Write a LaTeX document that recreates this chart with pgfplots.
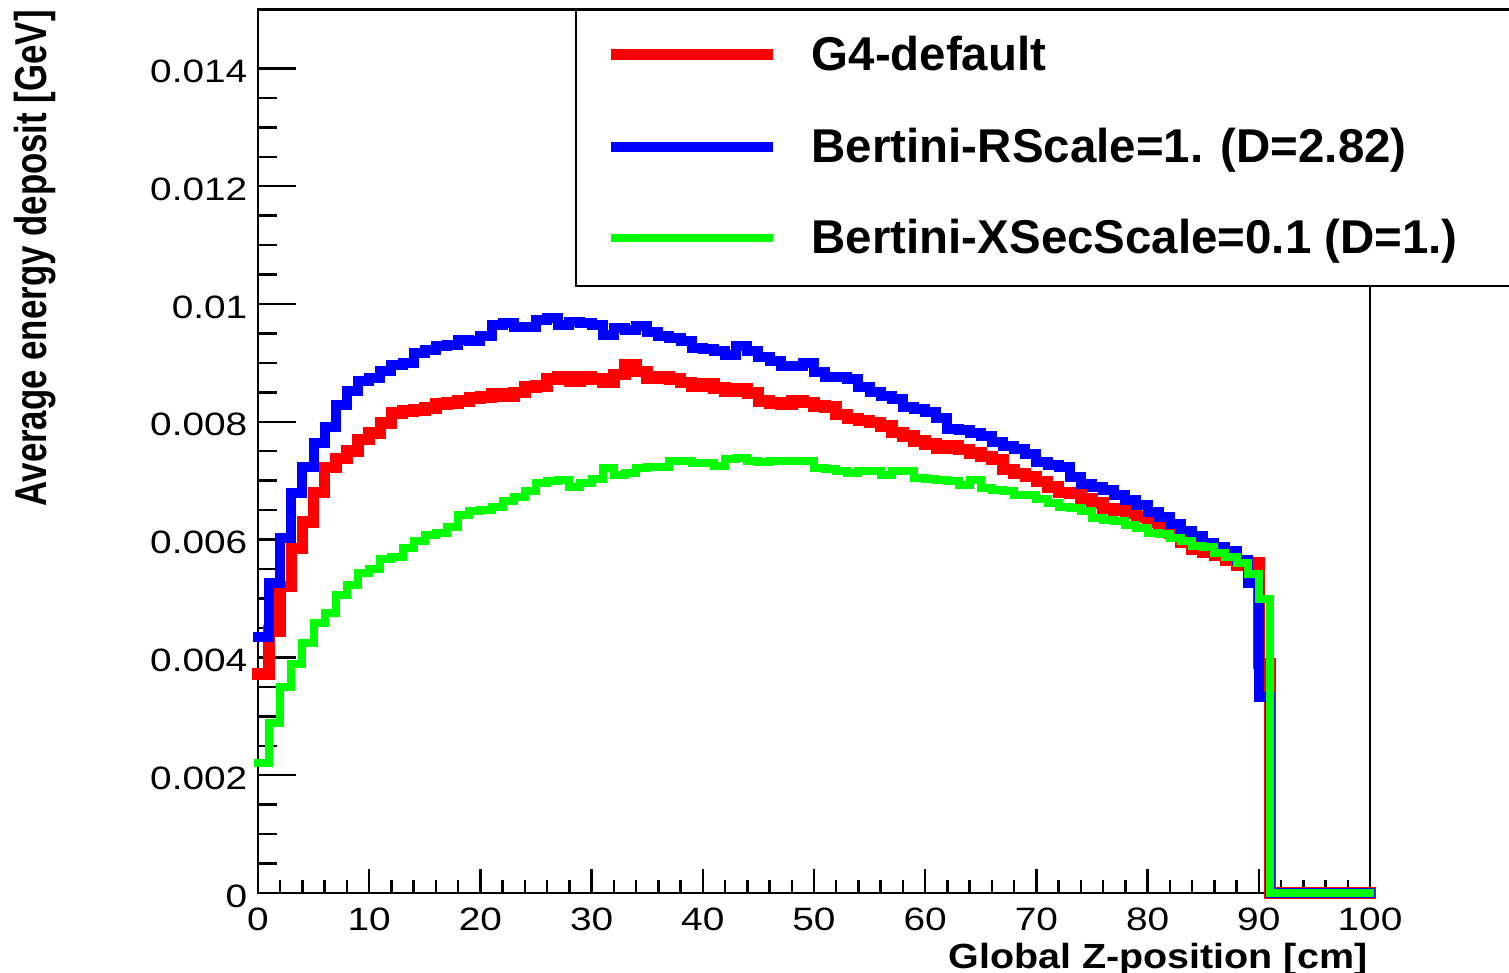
\documentclass[border=0pt]{standalone}
\usepackage{fontspec}
\setmainfont{Liberation Sans}
\newfontfamily\tickfont{Liberation Sans}[FakeStretch=1.2]
\newfontfamily\xlabfont{Liberation Sans}[FakeStretch=1.13]
\newfontfamily\ylabfont{Liberation Sans}[FakeStretch=0.78]
\usepackage{pgfplots}
\pgfplotsset{compat=1.18}
\usepackage{pgfplotstable}

\definecolor{hred}{RGB}{255,0,0}
\definecolor{hblue}{RGB}{0,0,255}
\definecolor{hgreen}{RGB}{0,255,0}

% bin content per 1 cm bin (lower edge), last bin followed by zeros
\pgfplotstableread{
x y
0 0.00372
1 0.00445
2 0.00520
3 0.00585
4 0.00630
5 0.00680
6 0.00722
7 0.00738
8 0.00750
9 0.00770
10 0.00781
11 0.00798
12 0.00815
13 0.00818
14 0.00820
15 0.00823
16 0.00830
17 0.00832
18 0.00835
19 0.00840
20 0.00842
21 0.00847
22 0.00843
23 0.00850
24 0.00859
25 0.00861
26 0.00873
27 0.00876
28 0.00869
29 0.00876
30 0.00873
31 0.00867
32 0.00880
33 0.00897
34 0.00885
35 0.00874
36 0.00877
37 0.00873
38 0.00867
39 0.00860
40 0.00865
41 0.00857
42 0.00852
43 0.00856
44 0.00849
45 0.00835
46 0.00832
47 0.00829
48 0.00835
49 0.00833
50 0.00827
51 0.00825
52 0.00812
53 0.00806
54 0.00802
55 0.00799
56 0.00793
57 0.00782
58 0.00776
59 0.00767
60 0.00762
61 0.00755
62 0.00759
63 0.00753
64 0.00747
65 0.00741
66 0.00736
67 0.00719
68 0.00712
69 0.00707
70 0.00699
71 0.00689
72 0.00680
73 0.00678
74 0.00669
75 0.00662
76 0.00653
77 0.00649
78 0.00644
79 0.00638
80 0.00630
81 0.00622
82 0.00610
83 0.00595
84 0.00583
85 0.00578
86 0.00574
87 0.00565
88 0.00556
89 0.00560
90 0.00390
91 0
100 0
}\gfourdefault

\pgfplotstableread{
x y
0 0.00435
1 0.00526
2 0.00603
3 0.00679
4 0.00723
5 0.00764
6 0.00791
7 0.00829
8 0.00852
9 0.00870
10 0.00874
11 0.00886
12 0.00897
13 0.00900
14 0.00917
15 0.00922
16 0.00928
17 0.00931
18 0.00939
19 0.00937
20 0.00945
21 0.00964
22 0.00967
23 0.00961
24 0.00961
25 0.00973
26 0.00977
27 0.00965
28 0.00970
29 0.00968
30 0.00965
31 0.00948
32 0.00960
33 0.00956
34 0.00962
35 0.00953
36 0.00945
37 0.00943
38 0.00937
39 0.00926
40 0.00924
41 0.00921
42 0.00914
43 0.00928
44 0.00921
45 0.00910
46 0.00904
47 0.00895
48 0.00894
49 0.00899
50 0.00884
51 0.00876
52 0.00876
53 0.00873
54 0.00859
55 0.00850
56 0.00844
57 0.00839
58 0.00825
59 0.00822
60 0.00817
61 0.00806
62 0.00787
63 0.00786
64 0.00781
65 0.00776
66 0.00765
67 0.00759
68 0.00753
69 0.00746
70 0.00731
71 0.00727
72 0.00723
73 0.00706
74 0.00695
75 0.00689
76 0.00685
77 0.00676
78 0.00668
79 0.00659
80 0.00646
81 0.00638
82 0.00627
83 0.00614
84 0.00606
85 0.00595
86 0.00588
87 0.00580
88 0.00565
89 0.00527
90 0.00333
91 0
100 0
}\rscale

\pgfplotstableread{
x y
0 0.00221
1 0.00288
2 0.00349
3 0.00389
4 0.00425
5 0.00459
6 0.00475
7 0.00506
8 0.00523
9 0.00543
10 0.00550
11 0.00567
12 0.00571
13 0.00586
14 0.00597
15 0.00608
16 0.00612
17 0.00622
18 0.00642
19 0.00648
20 0.00650
21 0.00656
22 0.00665
23 0.00673
24 0.00683
25 0.00696
26 0.00699
27 0.00702
28 0.00690
29 0.00696
30 0.00703
31 0.00721
32 0.00710
33 0.00713
34 0.00721
35 0.00724
36 0.00724
37 0.00733
38 0.00733
39 0.00730
40 0.00730
41 0.00725
42 0.00736
43 0.00738
44 0.00734
45 0.00731
46 0.00734
47 0.00733
48 0.00734
49 0.00733
50 0.00721
51 0.00720
52 0.00716
53 0.00713
54 0.00716
55 0.00716
56 0.00710
57 0.00716
58 0.00716
59 0.00704
60 0.00703
61 0.00702
62 0.00699
63 0.00693
64 0.00702
65 0.00687
66 0.00685
67 0.00682
68 0.00676
69 0.00676
70 0.00669
71 0.00662
72 0.00656
73 0.00653
74 0.00648
75 0.00636
76 0.00634
77 0.00631
78 0.00625
79 0.00620
80 0.00612
81 0.00610
82 0.00603
83 0.00597
84 0.00589
85 0.00587
86 0.00577
87 0.00570
88 0.00561
89 0.00542
90 0.00499
91 0
100 0
}\xsecscale

\begin{document}
\begin{tikzpicture}
\begin{axis}[
    name=ax,
    scale only axis,
    width=111.2mm,
    height=88.35mm,
    xmin=0, xmax=100,
    ymin=0, ymax=0.015,
    clip=false,
    axis line style={line width=0.8pt},
    tick align=inside,
    xtick pos=bottom,
    ytick pos=left,
    xtick={0,10,20,30,40,50,60,70,80,90,100},
    minor x tick num=4,
    ytick={0,0.002,0.004,0.006,0.008,0.01,0.012,0.014},
    minor y tick num=3,
    scaled y ticks=false,
    /pgf/number format/assume math mode=true,
    yticklabel style={/pgf/number format/fixed, /pgf/number format/precision=3},
    tick label style={font=\tickfont\fontsize{9.2}{11}\selectfont},
    xticklabel style={anchor=north, inner sep=0pt, yshift=-1.4mm},
    yticklabel style={anchor=east, inner sep=0pt, xshift=-1mm, yshift=-0.3mm},
    tick style={line width=0.7pt, black},
    xtick style={/pgfplots/major tick length=2.4mm, /pgfplots/minor tick length=1.3mm},
    ytick style={/pgfplots/major tick length=3.8mm, /pgfplots/minor tick length=1.9mm},
    every axis plot/.append style={const plot, line cap=rect, line join=miter},
]
\addplot[hred, line width=1.15mm] table[x=x, y=y] {\gfourdefault};
\addplot[hblue, line width=1.0mm] table[x=x, y=y] {\rscale};
\addplot[hgreen, line width=0.8mm] table[x=x, y=y] {\xsecscale};
\end{axis}

% legend box
\fill[white] ([xshift=31.8mm]ax.north west) rectangle ([shift={(125.7mm,-27.65mm)}]ax.north west);
\draw[line width=0.7pt] ([xshift=31.8mm]ax.north west) rectangle ([shift={(125.7mm,-27.65mm)}]ax.north west);
\draw[hred, line width=1.1mm] ([shift={(35.3mm,-4.55mm)}]ax.north west) -- ++(16.2mm,0);
\draw[hblue, line width=0.95mm] ([shift={(35.3mm,-13.75mm)}]ax.north west) -- ++(16.2mm,0);
\draw[hgreen, line width=0.75mm] ([shift={(35.3mm,-22.85mm)}]ax.north west) -- ++(16.2mm,0);
\begin{scope}[every node/.style={anchor=base west, inner sep=0pt, font=\bfseries\fontsize{13.5}{15}\selectfont}]
\node at ([shift={(55.3mm,-6.15mm)}]ax.north west) {G4-default};
\node at ([shift={(55.3mm,-15.35mm)}]ax.north west) {Bertini-RScale=1. (D=2.82)};
\node at ([shift={(55.3mm,-24.45mm)}]ax.north west) {Bertini-XSecScale=0.1 (D=1.)};
\end{scope}

% axis titles
\node[rotate=90, anchor=base east, inner sep=0pt, font=\ylabfont\bfseries\fontsize{12.7}{14}\selectfont]
    at ([xshift=-21.1mm]ax.north west) {Average energy deposit [GeV]};
\node[anchor=base east, inner sep=0pt, font=\xlabfont\bfseries\fontsize{9.94}{12}\selectfont]
    at ([shift={(-0.2mm,-7.6mm)}]ax.south east) {Global Z-position [cm]};

\pgfresetboundingbox
\path ([shift={(-25.8mm,-8.0mm)}]ax.south west) rectangle ++(150.9mm,97.3mm);
\end{tikzpicture}
\end{document}
